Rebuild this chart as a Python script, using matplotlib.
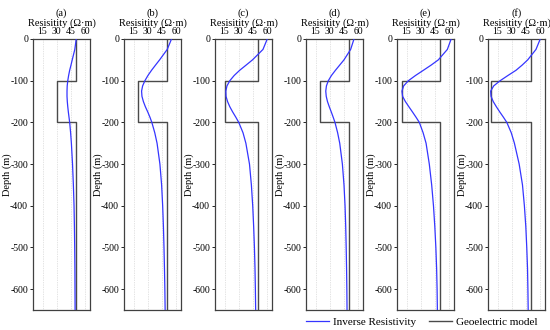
import matplotlib
matplotlib.use("Agg")
import matplotlib.pyplot as plt
from matplotlib.lines import Line2D

plt.rcParams['font.family'] = ['Liberation Serif', 'DejaVu Serif']
plt.rcParams['axes.unicode_minus'] = False

panel_labels = ["(a)", "(b)", "(c)", "(d)", "(e)", "(f)"]
x_ticks = [15, 30, 45, 60]
y_ticks = [0, -100, -200, -300, -400, -500, -600]

# Geoelectric model: layer boundaries (depth) and resistivity per layer
model_depths = [0, -100, -200, -650]
model_res = {
    "(a)": [50, 30, 50],
    "(b)": [50, 20, 50],
    "(c)": [50, 15, 50],
    "(d)": [50, 20, 50],
    "(e)": [50, 10, 50],
    "(f)": [50, 8, 50],
}

# Inverse resistivity curves, read at these depths
inv_depths = [0, -25, -50, -62.5, -75, -87.5, -100, -112.5, -125, -137.5,
              -150, -162.5, -175, -187.5, -200, -225, -250, -300,
              -350, -400, -450, -500, -550, -600, -650]
inv_res = {
    "(a)": [50.5, 49.0, 46.3, 45.0, 43.6, 42.5, 41.6, 41.0, 40.8, 40.8,
            41.1, 41.6, 42.2, 42.9, 43.6, 44.6, 45.4, 46.6,
            47.5, 48.2, 48.6, 48.9, 49.1, 49.2, 49.3],
    "(b)": [55.0, 50.5, 42.5, 38.2, 34.0, 30.2, 27.0, 24.6, 23.5, 23.9,
            25.4, 27.5, 30.0, 32.3, 34.3, 37.4, 39.8, 42.8,
            44.6, 45.7, 46.5, 47.1, 47.6, 48.0, 48.3],
    "(c)": [60.0, 55.5, 44.5, 37.8, 31.0, 25.2, 20.6, 17.6, 16.4, 16.6,
            18.2, 20.6, 23.6, 26.9, 30.0, 34.5, 37.5, 41.3,
            43.3, 44.7, 45.7, 46.5, 47.1, 47.5, 47.8],
    "(d)": [55.5, 52.0, 45.0, 40.5, 36.0, 31.8, 28.5, 26.5, 25.8, 26.3,
            27.6, 29.5, 31.6, 33.6, 35.5, 38.3, 40.5, 43.3,
            45.0, 46.1, 46.8, 47.3, 47.7, 48.0, 48.2],
    "(e)": [62.0, 58.0, 48.5, 41.0, 32.8, 24.5, 17.0, 12.0, 10.2, 10.9,
            13.8, 17.5, 21.3, 25.0, 28.5, 32.5, 35.6, 39.0,
            41.5, 43.4, 44.8, 45.9, 46.7, 47.2, 47.5],
    "(f)": [60.0, 55.5, 46.8, 41.0, 34.5, 26.0, 17.8, 11.0, 7.8, 8.2,
            10.5, 13.8, 17.4, 21.2, 24.8, 29.5, 32.8, 37.8,
            41.3, 43.3, 44.8, 45.8, 46.6, 47.0, 47.3],
}

fig = plt.figure(figsize=(5.5, 3.3), dpi=100)
lefts = [33, 124, 215, 306, 397, 488]
W, H = 550.0, 330.0
blue = "#3535ff"
gray = "#4a4a4a"

for i, lab in enumerate(panel_labels):
    ax = fig.add_axes([lefts[i] / W, 20 / H, 57 / W, 271 / H])
    xs, ys = [], []
    for k, r in enumerate(model_res[lab]):
        xs += [r, r]
        ys += [model_depths[k], model_depths[k + 1]]
    ax.plot(xs, ys, color=gray, lw=1.0, zorder=2)
    ax.plot(inv_res[lab], inv_depths, color=blue, lw=0.9, zorder=3)
    ax.set_xlim(5, 65)
    ax.set_ylim(-650, 0)
    ax.set_xticks(x_ticks)
    ax.set_yticks(y_ticks)
    ax.xaxis.tick_top()
    ax.xaxis.set_label_position('top')
    ax.tick_params(axis='x', labelsize=7, length=0, pad=2)
    ax.tick_params(axis='y', labelsize=7, length=2, width=0.6, pad=1.5)
    ax.grid(axis='x', color='#c8c8c8', linestyle=(0, (1, 1.5)), lw=0.5)
    for sp in ax.spines.values():
        sp.set_color('#404040')
        sp.set_linewidth(0.9)
    ax.set_xlabel("Resisitity (Ω·m)", fontsize=7.5, labelpad=1)
    ax.set_ylabel("Depth (m)", fontsize=7.5, labelpad=-1)
    ax.set_title(lab, fontsize=7.5, pad=17)

handles = [Line2D([0], [0], color=blue, lw=0.9),
           Line2D([0], [0], color=gray, lw=1.0)]
fig.legend(handles, ["Inverse Resistivity", "Geoelectric model"],
           loc='center', bbox_to_anchor=(422 / W, 1 - 322 / H), ncol=2,
           frameon=False, fontsize=8, handlelength=2.0, columnspacing=1.2,
           handletextpad=0.4, borderaxespad=0, borderpad=0)

fig.savefig("out.png", dpi=100)
